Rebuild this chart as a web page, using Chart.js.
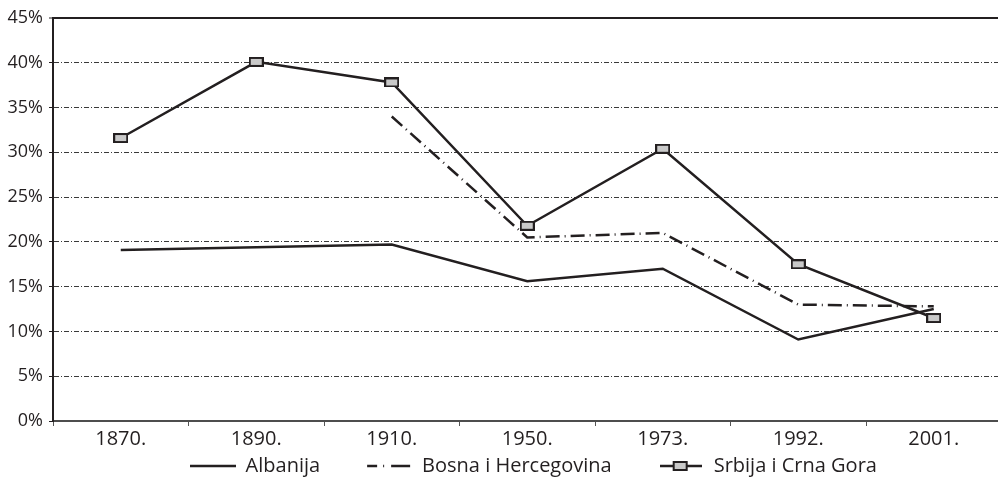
<!DOCTYPE html>
<html>
<head>
<meta charset="utf-8">
<script src="https://cdn.jsdelivr.net/npm/chart.js@4.4.0/dist/chart.umd.min.js"></script>
<style>
  html, body { margin: 0; padding: 0; background: #fff; overflow: hidden; }
  #chart { display: block; }
</style>
</head>
<body>
<canvas id="chart" width="1010" height="483"></canvas>
<script>
const years = ['1870.', '1890.', '1910.', '1950.', '1973.', '1992.', '2001.'];
const albanija = [19.1, null, 19.7, 15.6, 17.0, 9.1, 12.5];
const bosna = [null, null, 34.0, 20.5, 21.0, 13.0, 12.8];
const srbija = [31.6, 40.1, 37.8, 21.8, 30.4, 17.5, 11.5];
const yTicks = [0, 5, 10, 15, 20, 25, 30, 35, 40, 45];
const seriesNames = ['Albanija', 'Bosna i Hercegovina', 'Srbija i Crna Gora'];

const ink = '#231f20';
const font = '"Open Sans", "Noto Sans", sans-serif';
const bosnaDash = [14, 5, 1, 5];
const legendGap = 46;

// small canvases used as point / legend symbols
function makeCanvas(w, h, draw) {
  const c = document.createElement('canvas');
  c.width = w;
  c.height = h;
  draw(c.getContext('2d'));
  return c;
}

function drawMarker(g, x, y) {
  g.fillStyle = '#c9c9c9';
  g.fillRect(x + 1, y + 1, 13, 8);
  g.strokeStyle = ink;
  g.lineWidth = 2;
  g.strokeRect(x + 1, y + 1, 13, 8);
}

const marker = makeCanvas(15, 10, g => drawMarker(g, 0, 0));

const solidSym = makeCanvas(46, 6, g => {
  g.strokeStyle = ink;
  g.lineWidth = 2.5;
  g.beginPath();
  g.moveTo(0, 3);
  g.lineTo(46, 3);
  g.stroke();
});

const dashSym = makeCanvas(46, 6, g => {
  g.strokeStyle = ink;
  g.lineWidth = 2.5;
  g.setLineDash([10, 6, 1, 7, 19]);
  g.beginPath();
  g.moveTo(1, 3);
  g.lineTo(45, 3);
  g.stroke();
});

const markerSym = makeCanvas(42, 10, g => {
  g.strokeStyle = ink;
  g.lineWidth = 2.5;
  g.beginPath();
  g.moveTo(0, 5);
  g.lineTo(42, 5);
  g.stroke();
  drawMarker(g, 13, 0);
});

const legendSymbols = [solidSym, dashSym, markerSym];

// put the legend under the plot area, with its own vertical spot
const legendPlace = {
  id: 'legendPlace',
  afterLayout(chart) {
    const lg = chart.legend;
    const area = chart.chartArea;
    lg.left = area.left + 6;
    lg.right = area.right + 6;
    lg.top = lg.bottom - 17 - legendGap - 10;
  }
};

new Chart(document.getElementById('chart'), {
  type: 'line',
  data: {
    labels: years,
    datasets: [
      {
        label: seriesNames[0],
        data: albanija,
        borderColor: ink,
        borderWidth: 2.5,
        pointRadius: 0,
        spanGaps: true,
        tension: 0,
        order: 2
      },
      {
        label: seriesNames[1],
        data: bosna,
        borderColor: ink,
        borderWidth: 2.5,
        borderDash: bosnaDash,
        pointRadius: 0,
        tension: 0,
        order: 1
      },
      {
        label: seriesNames[2],
        data: srbija,
        borderColor: ink,
        borderWidth: 2.5,
        pointStyle: marker,
        pointRadius: 6,
        tension: 0,
        order: 0
      }
    ]
  },
  options: {
    responsive: false,
    animation: false,
    layout: {
      padding: { top: 18, right: 4, left: 0, bottom: 0 }
    },
    plugins: {
      tooltip: { enabled: false },
      legend: {
        position: 'bottom',
        maxHeight: 31,
        labels: {
          usePointStyle: true,
          pointStyleWidth: 46,
          boxHeight: 20,
          padding: legendGap,
          color: ink,
          font: { family: font, size: 20 },
          generateLabels: () => seriesNames.map((name, i) => ({
            text: name,
            pointStyle: legendSymbols[i],
            fillStyle: ink,
            strokeStyle: ink,
            lineWidth: 0,
            fontColor: ink,
            datasetIndex: i
          }))
        }
      }
    },
    scales: {
      x: {
        offset: true,
        grid: {
          offset: true,
          drawOnChartArea: false,
          drawTicks: true,
          tickLength: 5,
          tickColor: '#555',
          tickWidth: 1
        },
        border: { color: '#4d4d4d', width: 2 },
        ticks: {
          color: ink,
          font: { family: font, size: 20 },
          padding: 1,
          maxRotation: 0,
          autoSkip: false
        }
      },
      y: {
        min: 0,
        max: 45,
        afterBuildTicks: axis => {
          axis.ticks = yTicks.map(v => ({ value: v }));
        },
        afterFit: axis => {
          axis.width = 53;
        },
        grid: {
          color: ctx => (ctx.tick && ctx.tick.value === 0) ? 'rgba(0,0,0,0)' : (ctx.tick && ctx.tick.value === 45 ? ink : '#3a3a3a'),
          lineWidth: ctx => (ctx.tick && ctx.tick.value === 45) ? 2 : 1,
          tickLength: 4,
          tickColor: ink,
          tickWidth: 1
        },
        border: {
          color: ink,
          width: 2,
          dash: ctx => (ctx.tick && ctx.tick.value !== 45) ? [5, 2, 1, 2] : []
        },
        ticks: {
          color: ink,
          font: { family: font, size: 18 },
          padding: 6,
          callback: v => v + '%'
        }
      }
    }
  },
  plugins: [legendPlace]
});
</script>
</body>
</html>
